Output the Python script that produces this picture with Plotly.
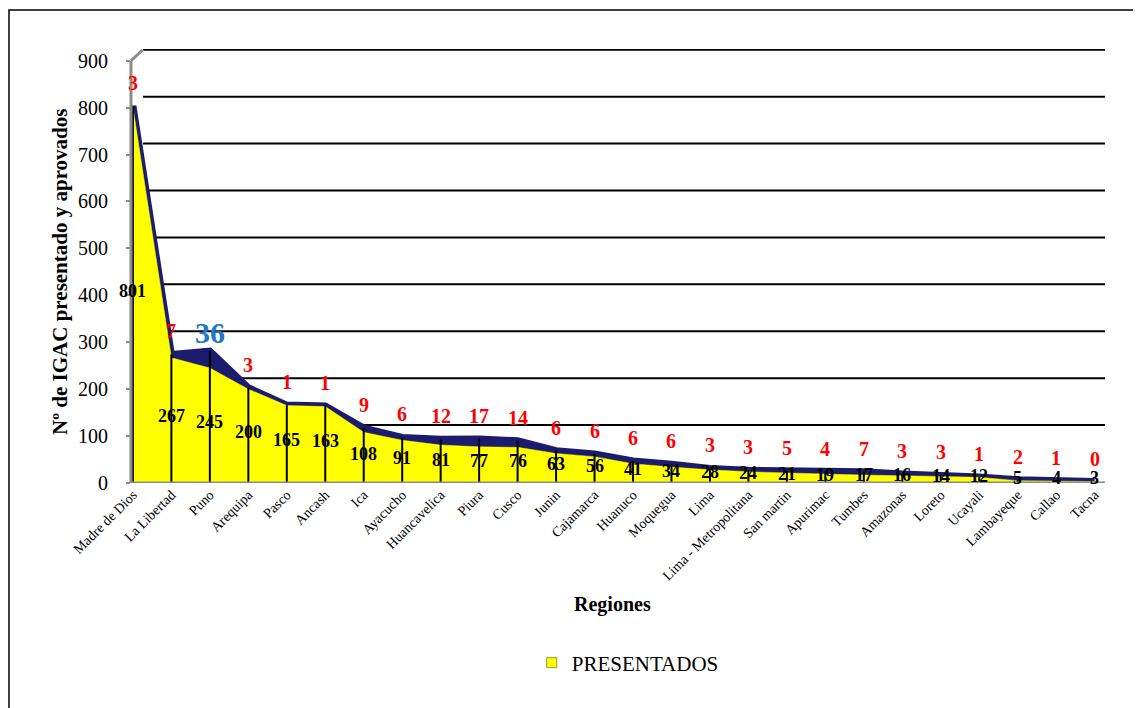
import plotly.graph_objects as go

regiones = ["Madre de Dios", "La Libertad", "Puno", "Arequipa", "Pasco", "Ancash", "Ica",
            "Ayacucho", "Huancavelica", "Piura", "Cusco", "Junin", "Cajamarca", "Huanuco",
            "Moquegua", "Lima", "Lima - Metropolitana", "San martin", "Apurimac", "Tumbes",
            "Amazonas", "Loreto", "Ucayali", "Lambayeque", "Callao", "Tacna"]
presentados = [801, 267, 245, 200, 165, 163, 108, 91, 81, 77, 76, 63, 56, 41, 34, 28, 24,
               21, 19, 17, 16, 14, 12, 5, 4, 3]
aprobados = [3, 7, 36, 3, 1, 1, 9, 6, 12, 17, 14, 6, 6, 6, 6, 3, 3, 5, 4, 7, 3, 3, 1, 2, 1, 0]
y_ticks = [0, 100, 200, 300, 400, 500, 600, 700, 800, 900]

xs = list(range(len(regiones)))
totales = [p + a for p, a in zip(presentados, aprobados)]

SERIF = "Liberation Serif, Times New Roman, serif"
NAVY = "#1c1c6e"
YELLOW = "#FFFF00"
GRAY = "#8c8c8c"

# figure-pixel geometry of the plot area
L, R, T, B = 123, 44, 41, 233
W, H = 1141, 708
PW, PH = W - L - R, H - T - B
DEPTH_X, DEPTH_Y = 12, 11  # 3D back-wall offset in pixels


def px_x(fx):
    return (fx - L) / PW


def px_y(fy):
    return (H - B - fy) / PH


fig = go.Figure()

# navy band (aprobados stacked on presentados)
fig.add_trace(go.Scatter(x=xs, y=totales, mode="lines", line=dict(color=NAVY, width=7),
                         fill="tozeroy", fillcolor=NAVY, showlegend=False, hoverinfo="skip"))
# yellow area (presentados)
fig.add_trace(go.Scatter(x=xs, y=presentados, mode="lines", line=dict(color=YELLOW, width=0.5),
                         fill="tozeroy", fillcolor=YELLOW, name="PRESENTADOS", showlegend=False))
# legend marker
fig.add_trace(go.Scatter(x=[None], y=[None], mode="markers", name="PRESENTADOS",
                         marker=dict(symbol="square", size=10, color=YELLOW,
                                     line=dict(color="#9a9a30", width=1)),
                         showlegend=True))

# drop lines
dx, dy = [], []
for x, t in zip(xs, totales):
    dx += [x, x, None]
    dy += [0, t, None]
fig.add_trace(go.Scatter(x=dx, y=dy, mode="lines", line=dict(color="black", width=2),
                         showlegend=False, hoverinfo="skip"))

annotations = []
for x, p in zip(xs, presentados):
    annotations.append(dict(x=x, y=p / 2, xref="x", yref="y", text=f"<b>{p}</b>",
                            showarrow=False, font=dict(family=SERIF, size=18, color="black"),
                            xanchor="center", yanchor="middle", yshift=4))
for i, (x, t, a) in enumerate(zip(xs, totales, aprobados)):
    if regiones[i] == "Puno":
        annotations.append(dict(x=x, y=t, xref="x", yref="y", text=f"<b>{a}</b>", showarrow=False,
                                font=dict(family=SERIF, size=30, color="#2276c2"),
                                xanchor="center", yanchor="bottom", yshift=0))
    else:
        annotations.append(dict(x=x, y=t, xref="x", yref="y", text=f"<b>{a}</b>", showarrow=False,
                                font=dict(family=SERIF, size=20, color="#ff0000"),
                                xanchor="center", yanchor="bottom", yshift=10))

annotations.append(dict(x=px_x(604), y=px_y(596), xref="paper", yref="paper",
                        text="<b>Regiones</b>", showarrow=False, xanchor="center", yanchor="middle",
                        font=dict(family=SERIF, size=20, color="black")))
annotations.append(dict(x=px_x(52), y=px_y(264), xref="paper", yref="paper",
                        text="<b>Nº de IGAC presentado y aprovados</b>", textangle=-90,
                        xanchor="center", yanchor="middle",
                        showarrow=False, font=dict(family=SERIF, size=21, color="black")))

shapes = []
# back-wall gridlines
for t in y_ticks[1:]:
    shapes.append(dict(type="line", xref="paper", yref="y", x0=DEPTH_X / PW, x1=1,
                       ysizemode="pixel", yanchor=t, y0=DEPTH_Y, y1=DEPTH_Y,
                       line=dict(color="black", width=2), layer="below"))
# left wall line and top diagonal
shapes.append(dict(type="line", xref="paper", yref="y", x0=0, x1=0, y0=0, y1=y_ticks[-1],
                   line=dict(color=GRAY, width=3), layer="above"))
shapes.append(dict(type="line", xref="paper", yref="y", xsizemode="pixel", xanchor=0,
                   x0=0, x1=DEPTH_X, ysizemode="pixel", yanchor=y_ticks[-1], y0=0, y1=DEPTH_Y,
                   line=dict(color=GRAY, width=3), layer="above"))
# floor line
shapes.append(dict(type="line", xref="paper", yref="y", x0=0, x1=1, y0=0, y1=0,
                   line=dict(color=GRAY, width=3), layer="above"))
# outer border
shapes.append(dict(type="rect", xref="paper", yref="paper", x0=px_x(1), x1=px_x(W + 20),
                   y0=px_y(H + 20), y1=px_y(2), line=dict(color="black", width=1.5),
                   fillcolor="rgba(0,0,0,0)", layer="below"))

fig.update_layout(
    width=W, height=H,
    margin=dict(l=L, r=R, t=T, b=B),
    paper_bgcolor="white", plot_bgcolor="white",
    font=dict(family=SERIF, color="black"),
    xaxis=dict(range=[-0.05, 25.27], tickmode="array", tickvals=xs, ticktext=regiones,
               tickangle=-45, tickfont=dict(family=SERIF, size=14, color="black"),
               showgrid=False, zeroline=False, showline=False, ticks=""),
    yaxis=dict(range=[0, 925], tickvals=y_ticks, tickfont=dict(family=SERIF, size=20, color="black"),
               showgrid=False, zeroline=False, showline=False, ticks="outside",
               ticklen=4, tickcolor=GRAY, tickwidth=2, ticklabelstandoff=14),
    legend=dict(orientation="h", x=0.51, xanchor="center", y=px_y(655), yanchor="middle",
                font=dict(family=SERIF, size=21, color="black")),
    annotations=annotations,
    shapes=shapes,
)

fig.write_html("out.html")
